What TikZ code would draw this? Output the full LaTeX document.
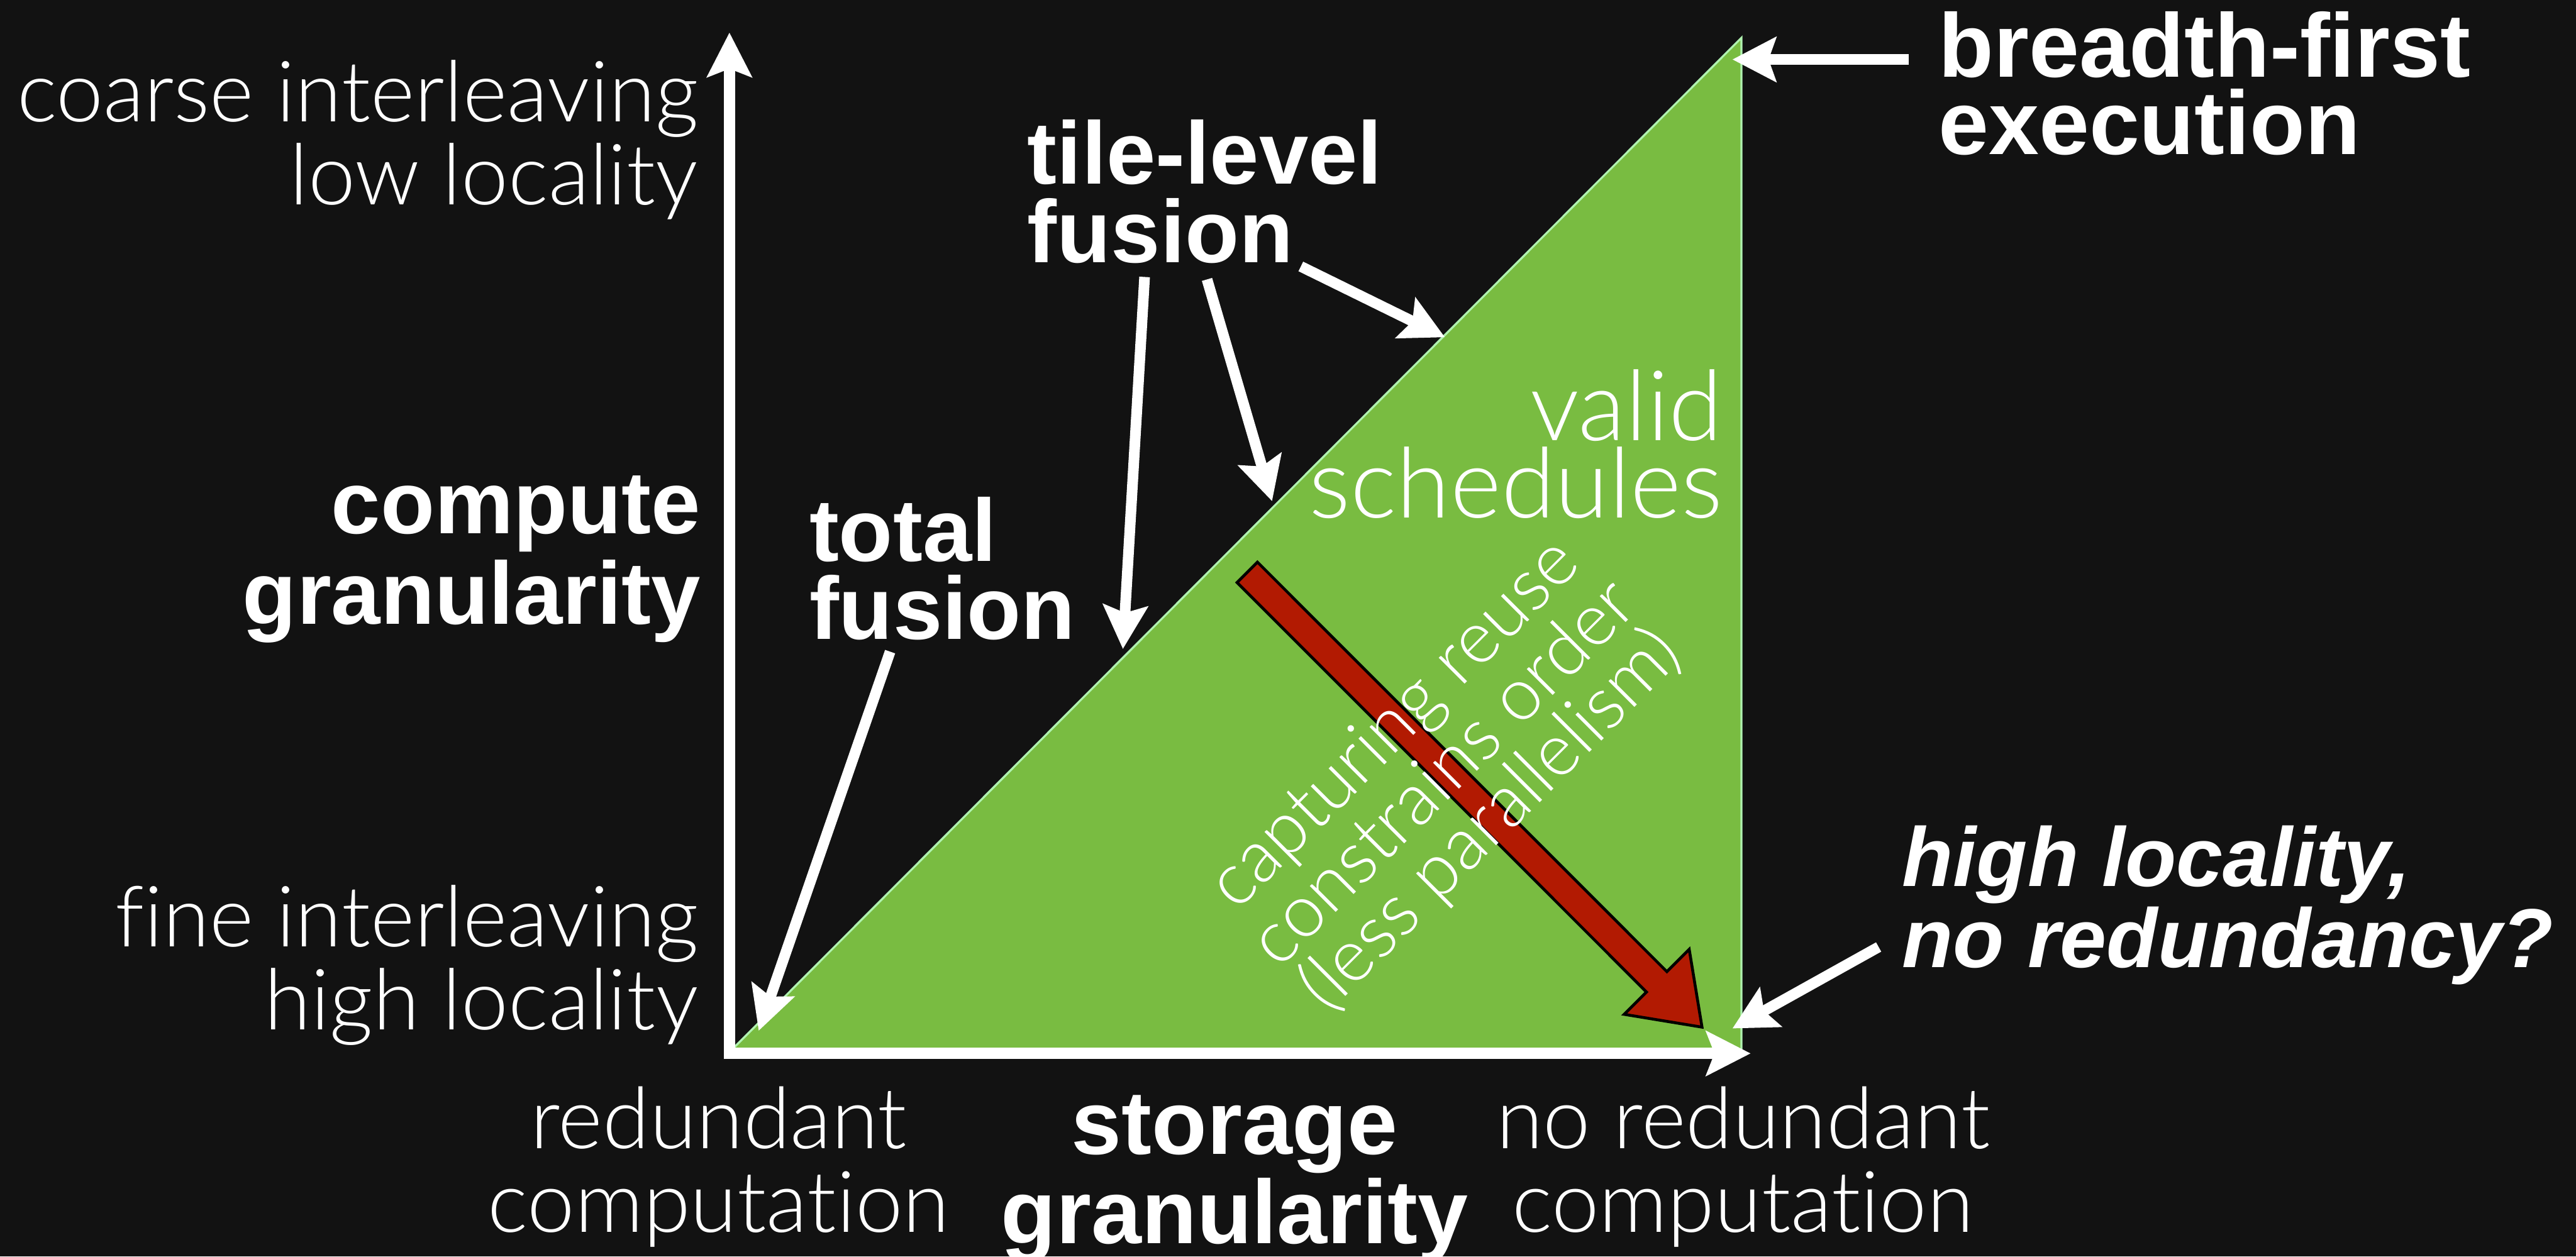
\documentclass[tikz,border=0pt]{standalone}
\usepackage{fontspec}
\setmainfont{Liberation Sans}
\newfontfamily\lightfont{Lato Light}[Ligatures={NoCommon}]
\usetikzlibrary{arrows.meta}
\definecolor{bgc}{HTML}{121212}
\definecolor{validfill}{HTML}{79BC41}
\definecolor{validedge}{HTML}{B0F2B0}
\definecolor{reusered}{HTML}{B21A02}
\begin{document}
\begin{tikzpicture}[x=0.02cm,y=-0.02cm,
  tip/.style={-{Stealth[length=0.53cm,width=0.54cm,inset=0.09cm]}},
  callout/.style={tip, draw=white, line width=0.13cm},
  axisline/.style={draw=white, line width=0.14cm, line join=miter,
    {Stealth[length=0.54cm,width=0.54cm,inset=0.1cm]}-{Stealth[length=0.54cm,width=0.54cm,inset=0.1cm]}},
  txt/.style={text=white, inner sep=0pt, outer sep=0pt},
  lighttxt/.style={txt, font=\lightfont\fontsize{29.3pt}{28.6pt}\selectfont},
  boldtxt/.style={txt, font=\bfseries\fontsize{30.7pt}{27.3pt}\selectfont},
]
\fill[bgc] (0,0) rectangle (1568,765);
\useasboundingbox (0,0) rectangle (1568,765);

% valid region
\coordinate (tA) at (445.5,639);
\coordinate (tB) at (1060,23);
\coordinate (tC) at (1060,639);
\filldraw[fill=validfill, draw=validedge, line width=0.025cm, line join=miter] (tA) -- (tB) -- (tC) -- cycle;

% red arrow
\filldraw[fill=reusered, draw=black, line width=0.035cm, line join=miter]
  (765.4,342.2) -- (1014.6,591.5) -- (1028.2,577.9) -- (1036,625.3)
  -- (988.6,617.5) -- (1002.2,603.9) -- (753.0,354.6) -- cycle;

\node[txt, rotate=45, align=center, font=\lightfont\fontsize{25.5pt}{23pt}\selectfont]
  (reuse) at (879,471) {capturing reuse\\constrains order\\(less parallelism)};

% axes
\coordinate (origin) at (444,641.3);
\coordinate (ytip) at (444,19.8);
\coordinate (xtip) at (1065.6,641.3);
\draw[axisline] (ytip) -- (origin) -- (xtip);

% labels (anchor = baseline of the last line)
\node[lighttxt, anchor=base east, align=right] (coarse) at (425,124.5)
  {coarse interleaving\\low locality};
\node[lighttxt, anchor=base east, align=right] (fine) at (425,626.7)
  {fine interleaving\\high locality};
\node[txt, anchor=base east, align=right, font=\bfseries\fontsize{30.7pt}{31.3pt}\selectfont]
  (compute) at (426.5,379.8) {compute\\granularity};
\node[boldtxt, anchor=base west, align=left] (tile) at (625.5,160)
  {tile-level\\fusion};
\node[boldtxt, anchor=base west, align=left, font=\bfseries\fontsize{30.7pt}{27.1pt}\selectfont]
  (total) at (492.7,389.2) {total\\fusion};
\node[txt, anchor=base east, align=right, font=\lightfont\fontsize{33.8pt}{26.7pt}\selectfont]
  (valid) at (1048.5,315.1) {valid\\schedules};
\node[txt, anchor=base west, align=left, font=\bfseries\fontsize{31.3pt}{26.9pt}\selectfont]
  (breadth) at (1180,94) {breadth-first\\execution};
\node[txt, anchor=base west, align=left, font=\bfseries\itshape\fontsize{29pt}{25.6pt}\selectfont]
  (high) at (1157.8,588.8) {high locality,\\no redundancy?};
\node[txt, anchor=base, align=center, font=\lightfont\fontsize{29.5pt}{29pt}\selectfont]
  (redundant) at (437.5,750) {redundant\\computation};
\node[txt, anchor=base, align=center, font=\bfseries\fontsize{31.3pt}{31pt}\selectfont]
  (storage) at (751.5,757) {storage\\granularity};
\node[txt, anchor=base, align=center, font=\lightfont\fontsize{29.5pt}{29pt}\selectfont]
  (noredundant) at (1061,750) {no redundant\\computation};

% callout arrows
\coordinate (bf-from) at (1162,36.2);
\coordinate (bf-to) at (1054.5,36.2);
\coordinate (tla-from) at (791.8,162.2);
\coordinate (tla-to) at (879.5,205.3);
\coordinate (tlb-from) at (734.7,170.1);
\coordinate (tlb-to) at (774.3,305.1);
\coordinate (tlc-from) at (696.7,168.6);
\coordinate (tlc-to) at (683.5,395.1);
\coordinate (tf-from) at (541.8,396.7);
\coordinate (tf-to) at (461.8,627.5);
\coordinate (hl-from) at (1143.5,576.5);
\coordinate (hl-to) at (1054.5,626.1);
\draw[callout] (bf-from) -- (bf-to);
\draw[callout] (tla-from) -- (tla-to);
\draw[callout] (tlb-from) -- (tlb-to);
\draw[callout] (tlc-from) -- (tlc-to);
\draw[callout] (tf-from) -- (tf-to);
\draw[callout] (hl-from) -- (hl-to);
\end{tikzpicture}
\end{document}
